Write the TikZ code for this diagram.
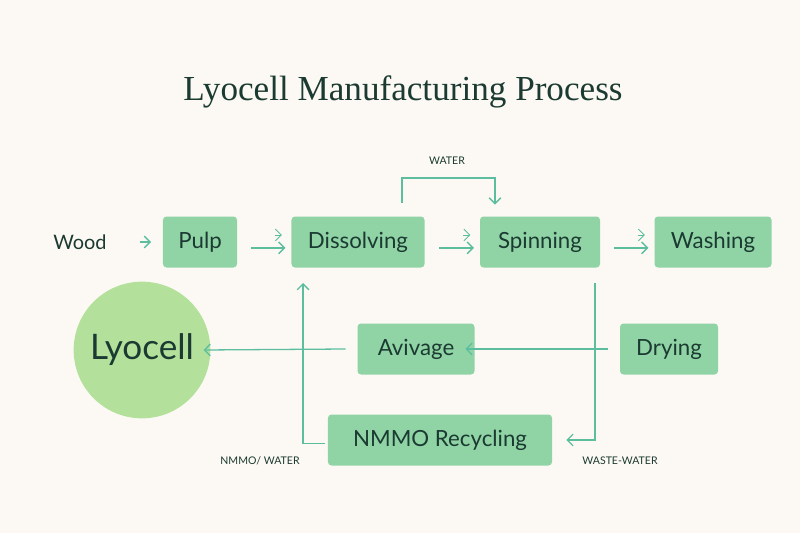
\documentclass[tikz,border=0pt]{standalone}
\usepackage{fontspec}
\setmainfont{Lato}
\newfontfamily\titlefont{Liberation Serif}
\usetikzlibrary{positioning,arrows.meta}
\definecolor{bgcol}{HTML}{FCF9F4}
\definecolor{boxcol}{HTML}{90D4A6}
\definecolor{inkcol}{HTML}{1B3A31}
\definecolor{flowcol}{HTML}{5CBE9F}
\definecolor{ballcol}{HTML}{B3E09A}
\tikzset{
    stage/.style={fill=boxcol, rounded corners=3pt, text=inkcol,
        font=\fontsize{19}{21}\selectfont, minimum height=1.53cm, inner xsep=8pt},
    flow/.style={draw=flowcol, line width=1.1pt, -{Straight Barb[length=5pt]}},
    tag/.style={text=inkcol, font=\fontsize{9}{10}\selectfont}
}
\begin{document}
\begin{tikzpicture}[x=0.03cm, y=-0.03cm]
            \fill[bgcol] (0,0) rectangle (800,533);
            \node[text=inkcol, font=\titlefont\fontsize{30}{33}\selectfont] (title) at (403,92) {Lyocell Manufacturing Process};
            \node[text=inkcol, font=\fontsize{17}{19}\selectfont] (wood) at (80,242) {Wood};
            \node[stage, minimum width=2.22cm] (pulp) at (200,242) {Pulp};
            \node[stage, minimum width=3.99cm] (diss) at (358,242) {Dissolving};
            \node[stage, minimum width=3.6cm] (spin) at (540,242) {Spinning};
            \node[stage, minimum width=3.51cm] (wash) at (713,242) {Washing};
            \node[circle, fill=ballcol, minimum size=4.1cm, text=inkcol,
                font=\fontsize{30}{32}\selectfont] (lyo) at (142,350) {Lyocell};
            \node[stage, minimum width=3.51cm] (aviv) at (416,349) {Avivage};
            \node[stage, minimum width=2.94cm] (dry) at (669,349) {Drying};
            \node[stage, minimum width=6.72cm] (nmmo) at (440,440) {NMMO Recycling};
            \node[tag] (water) at (447,161) {WATER};
            \node[tag] (nmmow) at (260,461) {NMMO/ WATER};
            \node[tag] (waste) at (620,461) {WASTE-WATER};
            \coordinate (wtl) at (402,203);
            \coordinate (wtr) at (495,178);
            \coordinate (wsa) at (595,283);
            \coordinate (nma) at (303,283);
            % forward chain
            \draw[flow] ([xshift=25pt]wood.east) -- ([xshift=-10pt]pulp.west);
            \foreach \a/\b in {pulp/diss, diss/spin, spin/wash} {
                \draw[flow] ([xshift=12pt,yshift=-5pt]\a.east) -- ([xshift=-5pt,yshift=-5pt]\b.west);
                \draw[flow, line width=0.8pt] ([xshift=-14pt,yshift=6pt]\b.west) -- ([xshift=-8pt,yshift=6pt]\b.west);
            }
            \draw[flow] (wtl) |- (wtr) -- ([yshift=10pt]spin.north -| wtr);
            % return paths
            \draw[flow] ([xshift=-10pt]dry.west) -- ([xshift=-8pt]aviv.east);
            \draw[flow] ([xshift=-10pt]aviv.west) -- ([xshift=-6pt]lyo.east);
            \draw[flow] (wsa) |- ([xshift=12pt]nmmo.east);
            \draw[flow] ([xshift=-2pt,yshift=-3pt]nmmo.west) -| (nma);
\end{tikzpicture}
\end{document}
